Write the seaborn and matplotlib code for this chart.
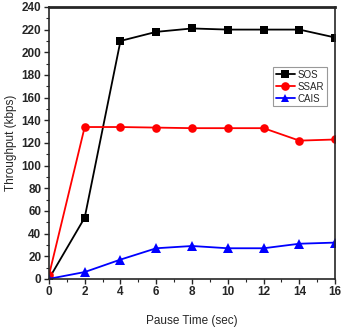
import matplotlib
matplotlib.use("Agg")
import matplotlib.pyplot as plt
import seaborn as sns
import pandas as pd
from matplotlib.ticker import MultipleLocator

pause_time = [0, 2, 4, 6, 8, 10, 12, 14, 16]
sos = [0, 54, 210, 218, 221, 220, 220, 220, 213]
ssar = [3, 134, 134, 133.5, 133, 133, 133, 122, 123]
cais = [0, 6, 17, 27, 29, 27, 27, 31, 32]

df = pd.DataFrame({"Pause": pause_time * 3,
                   "Throughput": sos + ssar + cais,
                   "Protocol": ["SOS"] * 9 + ["SSAR"] * 9 + ["CAIS"] * 9})

sns.set_style("ticks")
plt.rcParams['font.family'] = ['Liberation Sans', 'DejaVu Sans']

fig = plt.figure(figsize=(3.42, 3.30), dpi=100)
ax = fig.add_axes([0.143, 0.155, 0.837, 0.824])

sns.lineplot(data=df, x="Pause", y="Throughput", hue="Protocol", style="Protocol",
             palette={"SOS": "black", "SSAR": "red", "CAIS": "blue"},
             markers={"SOS": "s", "SSAR": "o", "CAIS": "^"}, dashes=False,
             markersize=6.2, linewidth=1.3, markeredgewidth=0, ax=ax)
# triangles look a touch larger in the original
ax.lines[2].set_markersize(7)

ax.set_xlim(0, 16)
ax.set_ylim(0, 240)
ax.xaxis.set_major_locator(MultipleLocator(2))
ax.xaxis.set_minor_locator(MultipleLocator(1))
ax.yaxis.set_major_locator(MultipleLocator(20))
ax.yaxis.set_minor_locator(MultipleLocator(10))
ax.tick_params(which="major", length=3.5, width=1, labelsize=8.5, pad=2)
ax.tick_params(which="minor", length=2, width=0.8)
for lab in ax.get_xticklabels() + ax.get_yticklabels():
    lab.set_fontweight("bold")
for s in ax.spines.values():
    s.set_linewidth(1.2)
ax.spines["top"].set_linewidth(2)

ax.set_xlabel("Pause Time (sec)", fontsize=8.5, labelpad=12)
ax.set_ylabel("Throughput (kbps)", fontsize=8.5, labelpad=3)

leg = ax.legend(loc="upper right", bbox_to_anchor=(0.97, 0.78), fontsize=7,
                frameon=True, fancybox=False, handlelength=2, handletextpad=0.2,
                borderpad=0.3, labelspacing=0.2, borderaxespad=0)
leg.get_frame().set_edgecolor("gray")
leg.get_frame().set_linewidth(0.8)

fig.savefig("out.png", dpi=100)
